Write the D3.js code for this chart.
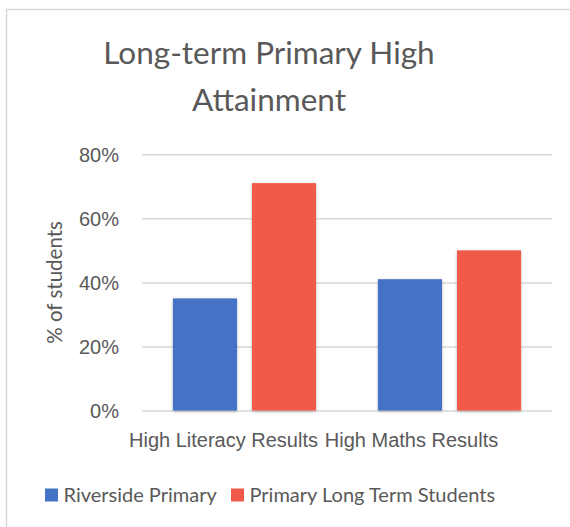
<!DOCTYPE html>
<html>
<head>
<meta charset="utf-8">
<script src="https://cdn.jsdelivr.net/npm/d3@7"></script>
<style>
  body { margin: 0; background: #fff; }
  svg { display: block; font-family: Lato, 'Open Sans', sans-serif; }
  .axis text { fill: #595959; }
</style>
</head>
<body>
<svg id="chart" width="570" height="527"></svg>
<script>
/* chart data */
const categories = ['High Literacy Results', 'High Maths Results']
const seriesNames = ['Riverside Primary', 'Primary Long Term Students']
const riverside = [0.35, 0.41]
const longTerm = [0.71, 0.50]
const yTicks = [0, 0.2, 0.4, 0.6, 0.8]
const titleLines = ['Long-term Primary High', 'Attainment']

/* layout */
const plot = { left: 142, right: 552, top: 154.3, bottom: 410.5 }
const colorPal = d3.scaleOrdinal().domain(seriesNames).range(['#4472C4', '#F05A4A'])
const textCol = '#595959'
const gridCol = '#D9D9D9'
/* label nudges, as in the original rendering */
const labelShift = [-21, -38]

const svg = d3.select('#chart')

/* shadow filter for the bars */
const defs = svg.append('defs')
const filt = defs.append('filter').attr('id', 'shadow')
  .attr('x', '-20%').attr('y', '-10%').attr('width', '140%').attr('height', '130%')
filt.append('feDropShadow').attr('dx', 0).attr('dy', 1)
  .attr('stdDeviation', 1.8).attr('flood-color', '#000').attr('flood-opacity', 0.3)

/* chart border (only top and left fall in view) */
svg.append('rect')
  .attr('x', 6.5).attr('y', 9.5).attr('width', 700).attr('height', 700)
  .attr('fill', '#fff').attr('stroke', gridCol).attr('stroke-width', 1.5)

/* scales */
const x0 = d3.scaleBand().domain(categories).range([plot.left, plot.right])
  .paddingInner(0.302).paddingOuter(0.151)
const x1 = d3.scaleBand().domain(seriesNames).range([0, x0.bandwidth()])
  .paddingInner(0.19)
const yScale = d3.scaleLinear().domain([0, 0.8]).range([plot.bottom, plot.top])

/* y axis with gridlines */
const yAxis = d3.axisLeft(yScale).tickValues(yTicks)
  .tickFormat(d3.format('.0%'))
  .tickSize(-(plot.right - plot.left))
  .tickPadding(23)

svg.append('g')
  .attr('class', 'axis')
  .attr('transform', `translate(${plot.left}, 0)`)
  .call(yAxis)
  .call((g) => g.select('.domain').remove())
  .call((g) => g.selectAll('.tick line').attr('stroke', gridCol).attr('stroke-width', 1.5))
  .call((g) => g.selectAll('.tick text').attr('font-size', 20).attr('font-family', null)
    .attr('dy', '0.36em'))

/* bars */
const rows = categories.map((c, i) => ({ cat: c, vals: [riverside[i], longTerm[i]] }))

svg.append('g').selectAll('g')
  .data(rows)
  .join('g')
  .attr('transform', (d) => `translate(${x0(d.cat)}, 0)`)
  .selectAll('rect')
  .data((d) => d.vals.map((v, j) => ({ s: seriesNames[j], v })))
  .join('rect')
  .attr('x', (d) => x1(d.s))
  .attr('y', (d) => yScale(d.v))
  .attr('width', x1.bandwidth())
  .attr('height', (d) => yScale(0) - yScale(d.v))
  .attr('fill', (d) => colorPal(d.s))
  .attr('filter', 'url(#shadow)')

/* x axis labels */
const xAxis = d3.axisBottom(x0).tickSize(0).tickPadding(22)
svg.append('g')
  .attr('class', 'axis')
  .attr('transform', `translate(0, ${plot.bottom})`)
  .call(xAxis)
  .call((g) => g.select('.domain').remove())
  .call((g) => g.selectAll('.tick text').attr('font-size', 20).attr('font-family', null)
    .attr('dx', (d, i) => labelShift[i]))

/* y-axis title */
svg.append('text')
  .attr('transform', `translate(62, ${(plot.top + plot.bottom) / 2}) rotate(-90)`)
  .attr('text-anchor', 'middle')
  .attr('font-size', 20.5)
  .attr('fill', textCol)
  .text('% of students')

/* chart title */
svg.append('g').selectAll('text')
  .data(titleLines)
  .join('text')
  .attr('x', 269)
  .attr('y', (d, i) => 63.5 + i * 47)
  .attr('text-anchor', 'middle')
  .attr('font-size', 31.5)
  .attr('fill', textCol)
  .text((d) => d)

/* legend */
const legend = svg.append('g').attr('transform', 'translate(45, 502)')
const legX = [0, 186]
const items = legend.selectAll('g')
  .data(seriesNames)
  .join('g')
  .attr('transform', (d, i) => `translate(${legX[i]}, 0)`)
items.append('rect')
  .attr('x', 0).attr('y', -13.5).attr('width', 13).attr('height', 13)
  .attr('fill', (d) => colorPal(d))
items.append('text')
  .attr('x', 18.5).attr('y', 0)
  .attr('font-size', 20)
  .attr('fill', textCol)
  .text((d) => d)
</script>
</body>
</html>
